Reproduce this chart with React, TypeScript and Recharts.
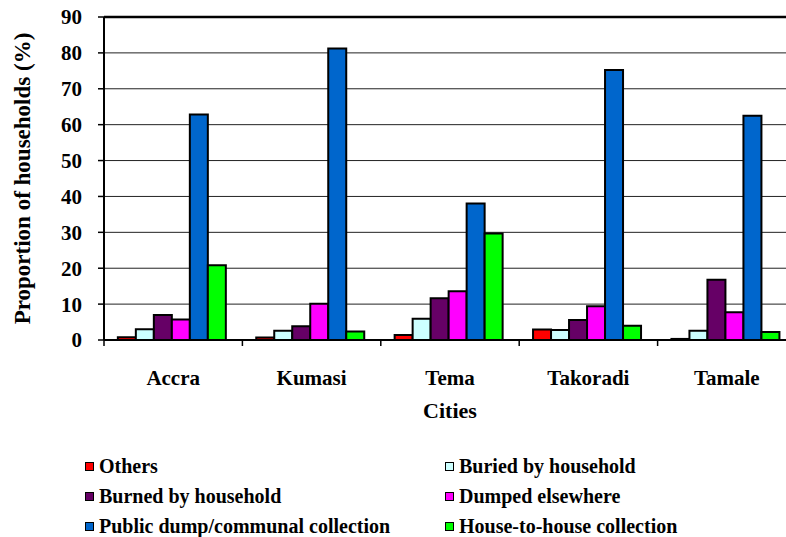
import React from "react";
import {
  BarChart,
  Bar,
  XAxis,
  YAxis,
  CartesianGrid,
  ReferenceLine,
} from "recharts";

const CITIES = ["Accra", "Kumasi", "Tema", "Takoradi", "Tamale"];

const OTHERS = [0.8, 0.7, 1.4, 2.9, 0.3];
const BURIED = [3.0, 2.6, 5.9, 2.8, 2.6];
const BURNED = [7.0, 3.8, 11.6, 5.6, 16.8];
const DUMPED = [5.7, 10.1, 13.6, 9.4, 7.7];
const PUBLIC_DUMP = [62.8, 81.2, 38.0, 75.2, 62.5];
const HOUSE_TO_HOUSE = [20.8, 2.4, 29.7, 4.0, 2.2];

const Y_TICKS = [0, 10, 20, 30, 40, 50, 60, 70, 80, 90];

const SERIES = [
  { key: "others", name: "Others", values: OTHERS, color: "#ff0000" },
  { key: "buried", name: "Buried by household", values: BURIED, color: "#ccffff" },
  { key: "burned", name: "Burned by household", values: BURNED, color: "#660066" },
  { key: "dumped", name: "Dumped elsewhere", values: DUMPED, color: "#ff00ff" },
  { key: "public", name: "Public dump/communal collection", values: PUBLIC_DUMP, color: "#0066cc" },
  { key: "house", name: "House-to-house collection", values: HOUSE_TO_HOUSE, color: "#00ff00" },
];

const data = CITIES.map((city, i) => {
  const row: any = { city };
  SERIES.forEach((s) => {
    row[s.key] = s.values[i];
  });
  return row;
});

const FONT = "Liberation Serif";

// city label plus the small tick marks on the band edges
function CityTick(props: any) {
  const { x, y, payload, index, visibleTicksCount } = props;
  const half = payload.offset || 0;
  const isLast = index === visibleTicksCount - 1;
  return (
    <g>
      <line x1={x - half} x2={x - half} y1={y} y2={y + 6} stroke="#000" strokeWidth={1.5} />
      {isLast && (
        <line x1={x + half} x2={x + half} y1={y} y2={y + 6} stroke="#000" strokeWidth={1.5} />
      )}
      <text
        x={x}
        y={y + 38}
        textAnchor="middle"
        dominantBaseline="central"
        style={{ fontFamily: FONT, fontWeight: 700, fontSize: 21 }}
        fill="#000"
      >
        {payload.value}
      </text>
    </g>
  );
}

export default function App() {
  return (
    <div
      style={{
        position: "absolute",
        left: 0,
        top: 0,
        width: 786,
        height: 537,
        overflow: "hidden",
        background: "#fff",
        fontFamily: FONT,
      }}
    >
      <BarChart
        width={820}
        height={537}
        data={data}
        margin={{ top: 17, right: 24, left: 4, bottom: 97 }}
        barCategoryGap="10%"
        barGap={0}
        style={{ fontFamily: FONT }}
      >
        <CartesianGrid vertical={false} stroke="#222" strokeWidth={1} />
        <XAxis
          dataKey="city"
          height={100}
          axisLine={{ stroke: "#000", strokeWidth: 2 }}
          tickLine={false}
          tickSize={0}
          tickMargin={0}
          interval={0}
          tick={<CityTick />}
          label={{
            value: "Cities",
            position: "insideTop",
            offset: 62,
            style: { fontFamily: FONT, fontWeight: 700, fontSize: 22 },
            fill: "#000",
          }}
        />
        <YAxis
          width={100}
          domain={[0, 90]}
          ticks={Y_TICKS}
          interval={0}
          axisLine={{ stroke: "#000", strokeWidth: 2 }}
          tickLine={{ stroke: "#000", strokeWidth: 1.5 }}
          tickSize={6}
          tickMargin={16}
          tick={{ style: { fontFamily: FONT, fontWeight: 700, fontSize: 21 }, fill: "#000" }}
          label={{
            value: "Proportion of households (%)",
            angle: -90,
            position: "insideLeft",
            offset: 18,
            style: { textAnchor: "middle", fontFamily: FONT, fontWeight: 700, fontSize: 23 },
            fill: "#000",
          }}
        />
        <ReferenceLine y={90} stroke="#000" strokeWidth={2.5} />
        {SERIES.map((s) => (
          <Bar
            key={s.key}
            dataKey={s.key}
            name={s.name}
            fill={s.color}
            stroke="#000"
            strokeWidth={2}
            isAnimationActive={false}
          />
        ))}
      </BarChart>

      <div
        style={{
          position: "absolute",
          left: 85,
          top: 451,
          display: "grid",
          gridTemplateColumns: "360px 340px",
          gridAutoRows: "30px",
          fontFamily: FONT,
          fontWeight: 700,
          fontSize: 20,
          color: "#000",
        }}
      >
        {SERIES.map((s) => (
          <div key={s.key} style={{ display: "flex", alignItems: "center", whiteSpace: "nowrap" }}>
            <span
              style={{
                display: "inline-block",
                width: 7,
                height: 7,
                background: s.color,
                border: "1.5px solid #000",
                marginRight: 5,
              }}
            />
            {s.name}
          </div>
        ))}
      </div>
    </div>
  );
}
